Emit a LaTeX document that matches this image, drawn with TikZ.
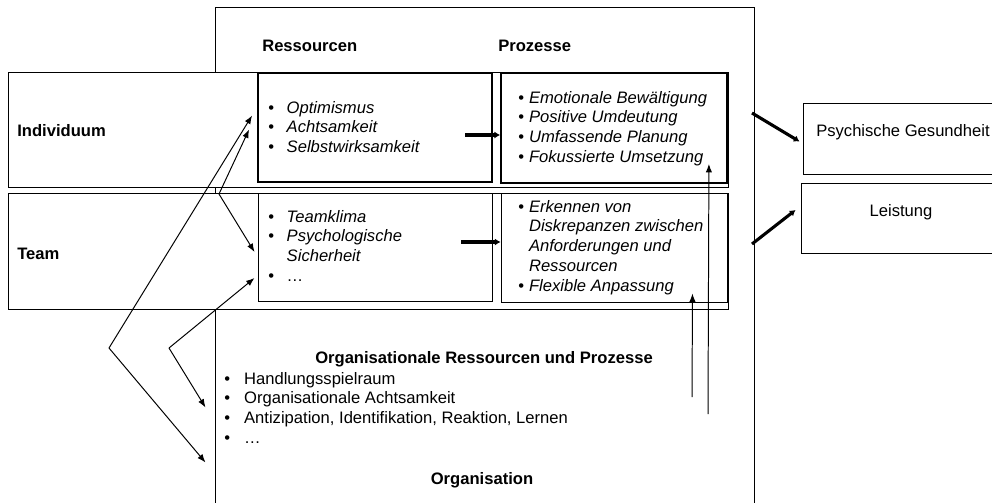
\documentclass[tikz,border=0pt]{standalone}
\usepackage{fontspec}
\setmainfont{Liberation Sans}
\usetikzlibrary{arrows.meta,positioning,fit}
\newcommand{\fs}{\fontsize{11.8}{14.2}\selectfont}
\newcommand{\bul}{\textbullet}
\newcommand{\itemlist}[2]{\begin{tabular}[t]{@{}l@{\hspace{#1}}l@{}}#2\end{tabular}}
\tikzset{
  frame/.style={draw, rectangle, inner sep=0pt, line width=0.7pt, fill=white, font=\fs},
  boldframe/.style={frame, line width=1.3pt},
  head/.style={font=\fs\bfseries, inner sep=0pt, anchor=base},
  lst/.style={font=\fs, inner sep=0pt, anchor=base west},
  link/.style={-{Latex[length=6pt,width=4.5pt]}, line width=0.7pt},
  push/.style={-{Latex[length=4pt,width=5pt]}, line width=2.2pt},
}

\begin{document}
\begin{tikzpicture}[x=0.025cm, y=-0.025cm]
  \useasboundingbox (0,0) rectangle (992,502);
  \clip (0,0) rectangle (992,502);

  % organisation frame (runs out at the bottom)
  \node[frame, fit={(215,7) (754,520)}] (org) {};

  % rows: individuum and team
  \node[frame, fit={(8,72) (728,187)}] (rowInd) {};
  \node[frame, fit={(8,193) (728,309)}] (rowTeam) {};
  \node[boldframe, fit={(258,73) (492,182)}] (resInd) {};
  \node[boldframe, fit={(501,73) (727,183)}] (procInd) {};
  \node[frame, fit={(258,193) (492,301)}] (resTeam) {};
  \node[frame, fit={(501,193) (727,302)}] (procTeam) {};

  % outcomes
  \node[frame, fit={(803,103) (1003,174)}] (health) {Psychische Gesundheit};
  \node[frame, fit={(801,183) (1001,253)}] (perf) {Leistung};

  % headings
  \node[head, anchor=base west] (hRes) at (262,51) {Ressourcen};
  \node[head, anchor=base west] (hProz) at (498,51) {Prozesse};
  \node[head, anchor=base west] (hInd) at (17,136) {Individuum};
  \node[head, anchor=base west] (hTeam) at (17,259) {Team};
  \node[head] (hOrgRP) at (484,363) {Organisationale Ressourcen und Prozesse};
  \node[head] (hOrg) at (482,484) {Organisation};

  % lists
  \node[lst] (lResInd) at (268,113) {\itemlist{9pt}{%
    \bul & \textit{Optimismus}\\
    \bul & \textit{Achtsamkeit}\\
    \bul & \textit{Selbstwirksamkeit}}};
  \node[lst] (lResTeam) at (268,222) {\itemlist{9pt}{%
    \bul & \textit{Teamklima}\\
    \bul & \textit{Psychologische}\\
         & \textit{Sicherheit}\\
    \bul & \ldots}};
  \node[lst] (lProcInd) at (518,103) {\itemlist{3.5pt}{%
    \bul & \textit{Emotionale Bewältigung}\\
    \bul & \textit{Positive Umdeutung}\\
    \bul & \textit{Umfassende Planung}\\
    \bul & \textit{Fokussierte Umsetzung}}};
  \node[lst] (lProcTeam) at (518,212) {\itemlist{3.5pt}{%
    \bul & \textit{Erkennen von}\\
         & \textit{Diskrepanzen zwischen}\\
         & \textit{Anforderungen und}\\
         & \textit{Ressourcen}\\
    \bul & \textit{Flexible Anpassung}}};
  \node[lst] (lOrg) at (224,384) {\itemlist{10pt}{%
    \bul & Handlungsspielraum\\
    \bul & Organisationale Achtsamkeit\\
    \bul & Antizipation, Identifikation, Reaktion, Lernen\\
    \bul & \ldots}};

  % resources -> processes
  \coordinate (srcInd) at (465,135);
  \coordinate (srcTeam) at (461,242);
  \draw[push] (srcInd) -- (srcInd -| procInd.west);
  \draw[push] (srcTeam) -- (srcTeam -| procTeam.west);

  % processes -> outcomes
  \coordinate (outH) at (752,113);
  \coordinate (outP) at (752,244);
  \draw[push] (outH) -- ([shift={(-3,3)}]health.west);
  \draw[push] (outP) -- ([shift={(-5,-8)}]perf.west);

  % cross-level links
  \coordinate (v1) at (109,348);
  \coordinate (v2) at (169,348);
  \coordinate (v3) at (219,194);
  \draw[link] (v1) -- ([shift={(-5,-12)}]resInd.west);
  \draw[link] (v1) -- ([shift={(-9,199)}]org.west);
  \draw[link] (v2) -- ([shift={(-3,31)}]resTeam.west);
  \draw[link] (v2) -- ([shift={(-9,144)}]org.west);
  \draw[link] (v3) -- ([shift={(-8,2)}]resInd.west);
  \draw[link] (v3) -- ([shift={(-3,5)}]resTeam.west);

  % organisation feeds the processes
  \coordinate (upInd) at (708,414);
  \coordinate (upTeam) at (692,397);
  \draw[link] (upInd) -- ([shift={(-19,-20)}]procInd.south east);
  \draw[link] (upTeam) -- ([shift={(-35,-9)}]procTeam.south east);
\end{tikzpicture}
\end{document}
